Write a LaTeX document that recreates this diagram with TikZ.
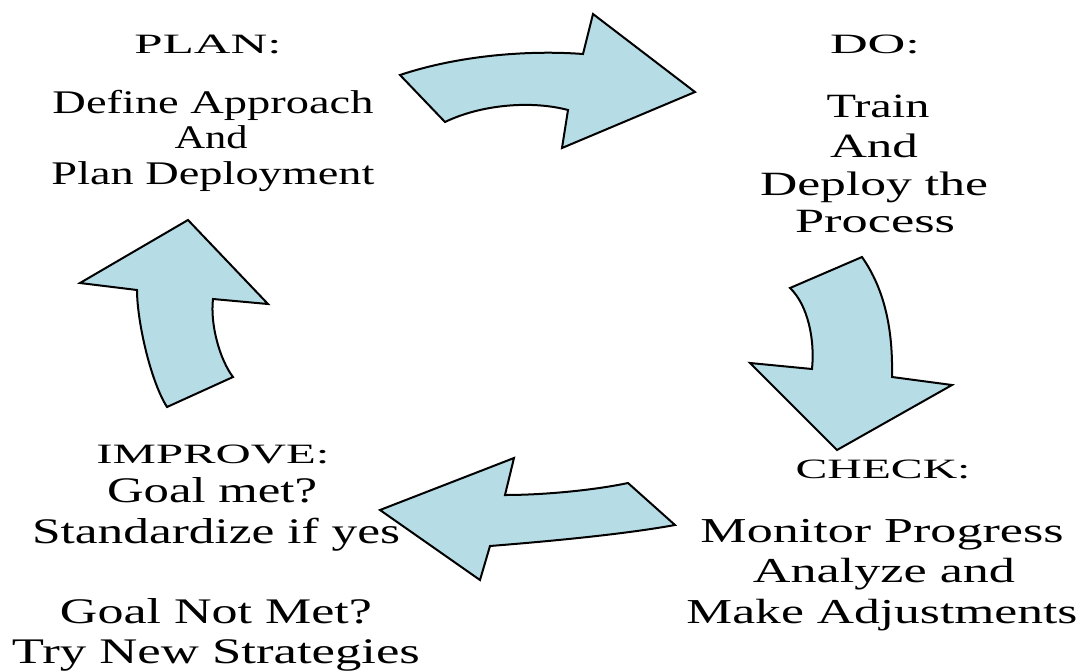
\documentclass[tikz,border=0pt]{standalone}
\usepackage{fontspec}
\setmainfont{Liberation Serif}
\usepackage{graphicx}
\definecolor{arrowfill}{RGB}{182,221,230}
\newcommand{\fitw}[2]{\resizebox{#1pt}{\height}{#2}}
\tikzset{
  bigarrow/.style={fill=arrowfill, draw=black, line width=2pt, line join=miter},
  txt/.style={anchor=base, inner sep=0pt, outer sep=0pt},
  head/.style={txt, font=\fontsize{28}{30}\selectfont},
  bodyA/.style={txt, font=\fontsize{33}{36}\selectfont},
  bodyB/.style={txt, font=\fontsize{34}{36}\selectfont},
  bodyC/.style={txt, font=\fontsize{36}{38}\selectfont},
  bodyD/.style={txt, font=\fontsize{35}{38}\selectfont}
}
\begin{document}
\begin{tikzpicture}[x=1pt,y=-1pt]
\useasboundingbox (0,0) rectangle (1090,670);
\fill[white] (0,0) rectangle (1090,670);

% top arrow (PLAN -> DO)
\draw[bigarrow] (400,75) .. controls (460,55) and (530,50) .. (583,54)
  -- (593,14) -- (695,92) -- (562,148) -- (568,110)
  .. controls (530,100) and (480,105) .. (445,122) -- cycle;

% right arrow (DO -> CHECK)
\draw[bigarrow] (790,288) -- (862,257)
  .. controls (885,290) and (893,330) .. (892,377)
  -- (952,385) -- (837,450) -- (750,363) -- (812,369)
  .. controls (815,340) and (808,305) .. (790,288) -- cycle;

% bottom arrow (CHECK -> IMPROVE)
\draw[bigarrow] (380,510) -- (514,458) -- (505,495)
  .. controls (545,495) and (595,490) .. (628,483)
  -- (675,525)
  .. controls (620,535) and (540,542) .. (490,546)
  -- (480,580) -- cycle;

% left arrow (IMPROVE -> PLAN)
\draw[bigarrow] (188,220) -- (268,304) -- (213,299)
  .. controls (210,325) and (220,360) .. (233,377)
  -- (167,407)
  .. controls (150,380) and (137,320) .. (137,290)
  -- (80,283) -- cycle;

% PLAN
\node[head]  (plan)  at (208,53)  {\fitw{147}{PLAN:}};
\node[bodyA] (plan1) at (213,113) {\fitw{321}{Define Approach}};
\node[bodyA] (plan2) at (211,148) {\fitw{73}{And}};
\node[bodyA] (plan3) at (213,184) {\fitw{323}{Plan Deployment}};

% DO
\node[head]  (do)  at (875,53)  {\fitw{90}{DO:}};
\node[bodyB] (do1) at (878,117) {\fitw{103}{Train}};
\node[bodyB] (do2) at (874,157) {\fitw{88}{And}};
\node[bodyB] (do3) at (874,195) {\fitw{228}{Deploy the}};
\node[bodyB] (do4) at (875,232) {\fitw{160}{Process}};

% IMPROVE
\node[head]  (imp)  at (213,463) {\fitw{233}{IMPROVE:}};
\node[bodyC] (imp1) at (212,502) {\fitw{210}{Goal met?}};
\node[bodyC] (imp2) at (216,543) {\fitw{368}{Standardize if yes}};
\node[bodyC] (imp3) at (216,623) {\fitw{312}{Goal Not Met?}};
\node[bodyC] (imp4) at (216,663) {\fitw{408}{Try New Strategies}};

% CHECK
\node[head]  (chk)  at (883,478) {\fitw{175}{CHECK:}};
\node[bodyD] (chk1) at (882,542) {\fitw{363}{Monitor Progress}};
\node[bodyD] (chk2) at (884,582) {\fitw{262}{Analyze and}};
\node[bodyD] (chk3) at (882,623) {\fitw{391}{Make Adjustments}};
\end{tikzpicture}
\end{document}
